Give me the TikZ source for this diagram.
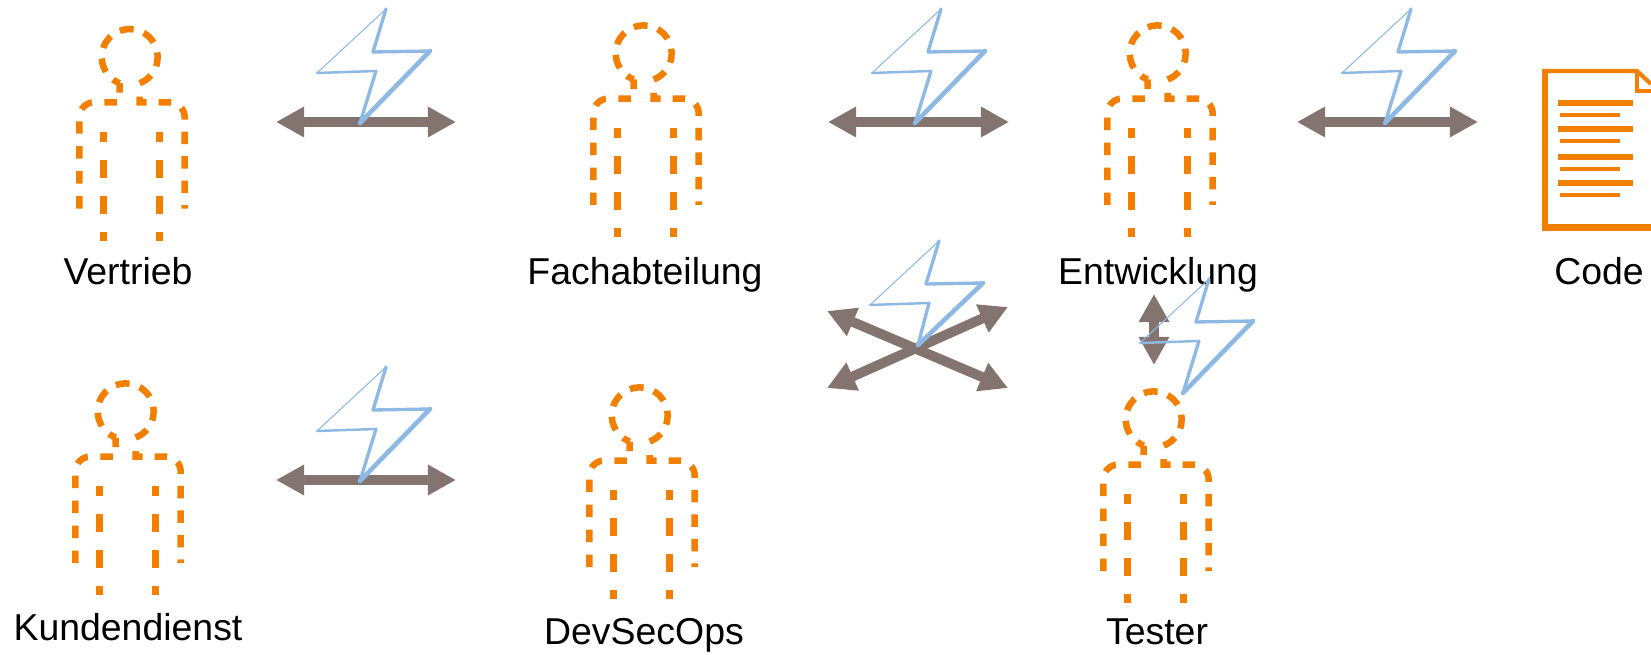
\documentclass[tikz,border=0pt]{standalone}
\usepackage{fontspec}
\setmainfont{Liberation Sans}
\usetikzlibrary{arrows.meta}

\definecolor{personorange}{HTML}{F27F00}
\definecolor{boltblue}{HTML}{8DB9E4}
\definecolor{conngray}{HTML}{84746F}

\tikzset{
  nametext/.style={anchor=base, font=\fontsize{21.3pt}{25pt}\selectfont},
  conn/.style={draw=conngray, line width=5.6pt, <->, >={Triangle[length=16pt,width=16.4pt]}},
  outline/.style={draw=personorange, line width=3.7pt, dash pattern=on 7.11pt off 7.11pt},
  headline/.style={draw=personorange, line width=3.7pt, dash pattern=on 7.96pt off 6.08pt, dash phase=3.64pt},
  rightline/.style={draw=personorange, line width=3.7pt, dash pattern=on 7.11pt off 6.82pt},
  leg/.style={draw=personorange, line width=4.1pt, dash pattern=on 10.24pt off 10.24pt, dash phase=4.55pt},
  pics/person/.style={code={
    \draw[outline] (79.3,208.7) -- (79.3,117.3) arc[start angle=180, end angle=270, radius=15]
      -- (119.7,102.3) -- (119.7,83.2);
    \draw[headline] (119.7,83.2) arc[start angle=110.9, end angle=429.1, radius=28];
    \draw[rightline] (139.7,96.7) -- (139.7,102.3) -- (169.7,102.3) arc[start angle=270, end angle=360, radius=15]
      -- (184.7,208.7);
    \draw[leg] (103.3,131.7) -- (103.3,240.7);
    \draw[leg] (159.3,131.7) -- (159.3,240.7);
  }},
  pics/bolt/.style={code={
    \begin{scope}[draw=boltblue, line cap=round, line join=round]
      \draw[line width=0.6pt] (0,0) -- (-69,64);
      \draw[line width=1.4pt] (-69,64) -- (-10,62);
      \draw[line width=1.9pt] (-10,62) -- (#1);
      \draw[line width=1.9pt] (0,0) -- (-13,43);
      \draw[line width=1.9pt] (-13,43) -- (44,42);
      \draw[line width=2.6pt] (44,42) -- (#1);
    \end{scope}
  }}
}

\begin{document}
\begin{tikzpicture}[x=0.02cm, y=-0.02cm]

  \useasboundingbox (0,0) rectangle (1651,655);

  % people
  \pic (vertrieb) at (0,0) {person};
  \pic (fach) at (514,-3.7) {person};
  \pic (entw) at (1028,-3.7) {person};
  \pic (kunde) at (-4,354.3) {person};
  \pic (devsec) at (510,358.3) {person};
  \pic (tester) at (1024,362.3) {person};

  % labels
  \node[nametext] (lvertrieb) at (128,285) {Vertrieb};
  \node[nametext] (lfach) at (645,285) {Fachabteilung};
  \node[nametext] (lentw) at (1158,285) {Entwicklung};
  \node[nametext] (lcode) at (1599,285) {Code};
  \node[nametext] (lkunde) at (128,640) {Kundendienst};
  \node[nametext] (ldevsec) at (644,644) {DevSecOps};
  \node[nametext] (ltester) at (1157,644) {Tester};

  % arrow ends
  \coordinate (a1) at (276,122);
  \coordinate (b1) at (456,122);
  \coordinate (a2) at (828,122);
  \coordinate (b2) at (1009,122);
  \coordinate (a3) at (1297,122);
  \coordinate (b3) at (1478,122);
  \coordinate (a4) at (276,480);
  \coordinate (b4) at (456,480);
  \coordinate (c1) at (827,311);
  \coordinate (d1) at (1008,388);
  \coordinate (c2) at (827,388);
  \coordinate (d2) at (1008,307);
  \coordinate (v1) at (1154,294);
  \coordinate (v2) at (1154,365);

  % arrows
  \draw[conn] (a1) -- (b1);
  \draw[conn] (a2) -- (b2);
  \draw[conn] (a3) -- (b3);
  \draw[conn] (a4) -- (b4);
  \draw[conn] (c1) -- (d1);
  \draw[conn] (c2) -- (d2);
  \draw[conn] (v1) -- (v2);

  % bolts
  \pic (bolta) at (386,9) {bolt={-26,114}};
  \pic (boltb) at (941,9) {bolt={-26,114}};
  \pic (boltc) at (1411,9) {bolt={-26,114}};
  \pic (boltd) at (386,367) {bolt={-26,114}};
  \pic (bolte) at (939,241) {bolt={-21,104}};
  \pic (boltf) at (1209,279) {bolt={-26,114}};

  % code sheet
  \draw[personorange, line width=3.8pt] (1545,70) -- (1545,231);
  \draw[personorange, line width=4.5pt] (1542,227.5) -- (1651,227.5);
  \draw[personorange, line width=2.3pt] (1542,71) -- (1637,71) -- (1651,84);
  \draw[personorange, line width=2pt] (1637,71) -- (1637,91) -- (1651,91);
  \draw[personorange, line width=3.4pt] (1558,103) -- (1633,103);
  \draw[personorange, line width=2pt] (1560,115) -- (1620,115);
  \draw[personorange, line width=3.4pt] (1558,129) -- (1633,129);
  \draw[personorange, line width=2pt] (1560,141) -- (1620,141);
  \draw[personorange, line width=3.4pt] (1558,157) -- (1633,157);
  \draw[personorange, line width=2pt] (1560,169) -- (1620,169);
  \draw[personorange, line width=3.4pt] (1558,183) -- (1633,183);
  \draw[personorange, line width=2pt] (1560,195) -- (1620,195);

\end{tikzpicture}
\end{document}
